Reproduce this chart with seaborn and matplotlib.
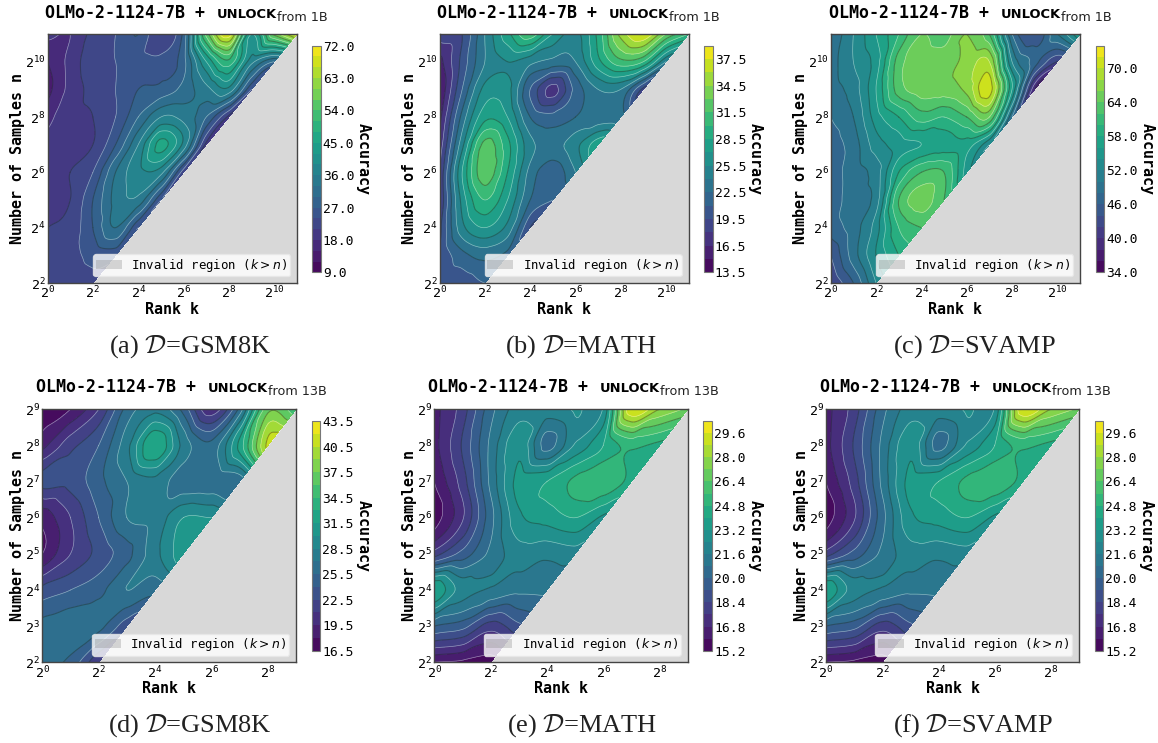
import numpy as np
import matplotlib
matplotlib.use("Agg")
import matplotlib.pyplot as plt
import matplotlib.tri as mtri
from matplotlib.ticker import FixedLocator, NullLocator, LogFormatterMathtext, FormatStrFormatter
import seaborn as sns

sns.set_style("white")
plt.rcParams['font.family'] = ['DejaVu Sans Mono']
plt.rcParams['axes.edgecolor'] = '#444444'
plt.rcParams['text.color'] = 'black'
plt.rcParams['axes.labelcolor'] = 'black'
W, H = 1158, 743

# Rows run from the top of each chart (largest log2 n) down to log2 n = 2; each row starts at log2 k = 0.
gsm8k_1b = [
    [19, 18, 22, 24, 27, 21, 28, 55, 68, 42, 58, 68],
    [15, 19, 23, 24, 25, 25, 29, 42, 50, 37, 30],
    [14, 19, 22, 24, 27, 28, 31, 35, 38, 24],
    [17, 20, 21, 24, 30, 36, 35, 30, 20],
    [19, 20, 21, 27, 36, 46, 38, 20],
    [20, 21, 24, 33, 38, 37, 22],
    [20, 21, 27, 34, 35, 24],
    [21, 22, 27, 33, 24],
    [23, 23, 25, 25],
    [23, 23, 23],
]
math_1b = [
    [19, 19.5, 24, 28, 31, 27, 25, 29, 35, 37.5, 33, 30],
    [16, 20, 24, 25.5, 24.5, 23.5, 24, 28, 31, 30, 24],
    [15, 21, 26, 26, 21, 17.5, 21.5, 24, 24, 19],
    [16, 23, 28, 27, 22.5, 21.5, 22.5, 23, 23],
    [17, 25, 32, 29, 24.5, 23.5, 25, 28],
    [18, 27, 32.5, 28.5, 23.5, 21.5, 24],
    [18, 26, 30, 27, 22.5, 21],
    [19, 25, 27, 25, 19.5],
    [19.5, 22, 23, 22],
    [20, 20, 21],
]
svamp_1b = [
    [48, 52, 56, 60, 64, 63, 66, 62, 48, 44, 50, 56],
    [49, 52, 55, 63, 65, 65, 66.5, 68, 52, 47, 42],
    [49, 51, 56, 63, 65, 65, 66.5, 71, 56, 38],
    [48, 50, 55, 58, 61, 60, 62, 64, 48],
    [47, 49, 53, 55, 56, 57, 57, 52],
    [47, 49, 51, 58, 62, 62, 55],
    [47, 49, 51, 62, 65, 62],
    [47, 49, 53, 60, 62],
    [44, 49, 54, 58],
    [42, 46, 52],
]
gsm8k_13b = [
    [17, 18, 21, 26, 28, 25, 20, 26, 37, 35],
    [19, 22, 24, 28, 33, 28, 26, 32, 41],
    [23, 23, 25, 27, 28, 26, 26, 26],
    [18.5, 21, 24, 27, 27.5, 30, 30],
    [18, 21, 23, 25, 28, 31],
    [23, 24, 25, 27, 26],
    [26, 26.5, 26, 23],
    [26.5, 25, 21],
]
math_13b = [
    [16.5, 18, 20.5, 22, 22, 22.5, 22.5, 29.5, 28, 27],
    [16.5, 18.5, 21, 23, 20.5, 22.5, 24, 25, 24.5],
    [16, 18, 21, 23.5, 24, 25, 25.5, 24.5],
    [15.5, 17.5, 20.5, 23, 23.5, 24, 23],
    [18, 19.5, 21, 22, 21.8, 22],
    [24, 22, 21.5, 21, 21],
    [20, 19.5, 18, 19],
    [16, 15.8, 15.5],
]
svamp_13b = [
    [16.5, 18, 20.5, 22, 22, 22.5, 22.5, 29.5, 28, 27],
    [16.5, 18.5, 21, 23, 20.5, 22.5, 24, 25, 24.5],
    [16, 18, 21, 23.5, 24, 25, 25.5, 24.5],
    [15.5, 17.5, 20.5, 23, 23.5, 24, 23],
    [18, 19.5, 21, 22, 21.8, 22],
    [24, 22, 21.5, 21, 21],
    [20, 19.5, 18, 19],
    [16, 15.8, 15.5],
]
captions = ["(a)", "(b)", "(c)", "(d)", "(e)", "(f)"]
datasets = ["GSM8K", "MATH", "SVAMP", "GSM8K", "MATH", "SVAMP"]
sources = ["from 1B"] * 3 + ["from 13B"] * 3
model_name = "OLMo-2-1124-7B + "

panels = [
    dict(z=gsm8k_1b, lev=(9, 72, 3), tick=3, box=(47.5, 297, 34, 283), cb=(312.3, 320.7, 45.7, 272.3), tx=45, ty=18, cx=190, cy=353),
    dict(z=math_1b, lev=(13.5, 39, 1.5), tick=2, box=(439.5, 688.7, 34, 283), cb=(704.3, 712.7, 45.7, 272.3), tx=437, ty=18, cx=581, cy=353),
    dict(z=svamp_1b, lev=(34, 74, 2), tick=3, box=(830.7, 1080, 34, 283), cb=(1096, 1104.3, 45.7, 272.3), tx=829, ty=18, cx=974, cy=353),
    dict(z=gsm8k_13b, lev=(16.5, 43.5, 1.5), tick=2, box=(42.3, 296, 409.3, 662.3), cb=(311.7, 320, 421, 650.7), tx=36, ty=392, cx=190, cy=732),
    dict(z=math_13b, lev=(15.2, 30.4, 0.8), tick=2, box=(434.3, 687.7, 409.3, 662.3), cb=(703.3, 712, 421, 650.7), tx=428, ty=392, cx=582, cy=732),
    dict(z=svamp_13b, lev=(15.2, 30.4, 0.8), tick=2, box=(826, 1079, 409.3, 662.3), cb=(1095, 1103.3, 421, 650.7), tx=820, ty=392, cx=973, cy=732),
]

fig = plt.figure(figsize=(W / 100, H / 100), dpi=100, facecolor='white')
cmap = sns.color_palette("viridis", as_cmap=True)


def rect(l, r, t, b):
    return [l / W, 1 - b / H, (r - l) / W, (b - t) / H]


def smooth_field(rows):
    top = len(rows) + 1
    xs, ys, zs, index = [], [], [], {}
    for i, row in enumerate(rows):
        ly = top - i
        for lx, v in enumerate(row):
            index[(lx, ly)] = len(xs)
            xs.append(lx); ys.append(ly); zs.append(v)
    tris = []
    for (lx, ly), a in index.items():
        b, c, d = index.get((lx + 1, ly)), index.get((lx, ly + 1)), index.get((lx + 1, ly + 1))
        if c is None or d is None:
            continue
        if b is not None:
            tris.append([a, b, d])
        tris.append([a, d, c])
    t = mtri.Triangulation(np.array(xs, float), np.array(ys, float), tris)
    interp = mtri.CubicTriInterpolator(t, np.array(zs, float), kind='geom')
    refiner = mtri.UniformTriRefiner(t)
    tf, zf = refiner.refine_field(np.array(zs, float), triinterpolator=interp, subdiv=4)
    return mtri.Triangulation(2.0 ** tf.x, 2.0 ** tf.y, tf.triangles), zf, top


for i, p in enumerate(panels):
    ax = fig.add_axes(rect(*p['box']))
    tri, zf, top = smooth_field(p['z'])
    lo, hi, st = p['lev']
    n_lev = int(round((hi - lo) / st))
    levels = lo + st * np.arange(n_lev + 1)
    cf = ax.tricontourf(tri, zf, levels=levels, cmap=cmap, extend='neither')
    ax.tricontour(tri, zf, levels=levels[::2], colors='#222222', linewidths=0.8, alpha=0.4)
    ax.tricontour(tri, zf, levels=levels[1::2], colors='white', linewidths=0.5, alpha=0.45)
    nmax = 2.0 ** top
    ax.fill_between([4.0, nmax], [4.0, 4.0], [4.0, nmax], color='gray', alpha=0.3, linewidth=0,
                    label=r'Invalid region ($k > n$)')
    ax.set_xscale('log', base=2)
    ax.set_yscale('log', base=2)
    ax.set_xlim(1, nmax)
    ax.set_ylim(4, nmax)
    ax.xaxis.set_major_locator(FixedLocator([2.0 ** e for e in range(0, top + 1, 2)]))
    ystep = 2 if top == 11 else 1
    ax.yaxis.set_major_locator(FixedLocator([2.0 ** e for e in range(2, top + 1, ystep)]))
    for axis in (ax.xaxis, ax.yaxis):
        axis.set_minor_locator(NullLocator())
        axis.set_major_formatter(LogFormatterMathtext(base=2))
    ax.tick_params(axis='both', labelsize=9.5, length=0, pad=1.5, colors='black')
    ax.set_xlabel('Rank k', fontsize=10.8, fontweight='bold', labelpad=0)
    ax.set_ylabel('Number of Samples n', fontsize=10.8, fontweight='bold', labelpad=0)
    for s in ax.spines.values():
        s.set_linewidth(1.0)
    ax.legend(loc='lower right', fontsize=8.9, frameon=True, framealpha=0.8, edgecolor='#e8e8e8',
              borderaxespad=0.55, handlelength=2.1, borderpad=0.2)

    cax = fig.add_axes(rect(*p['cb']))
    cb = fig.colorbar(cf, cax=cax, ticks=levels[::p['tick']])
    cb.ax.yaxis.set_major_formatter(FormatStrFormatter('%.1f'))
    cb.ax.tick_params(labelsize=9.4, length=0, pad=1.5, colors='black')
    cb.outline.set_edgecolor('#777777')
    cb.set_label('Accuracy', fontsize=10.8, fontweight='bold', rotation=270, labelpad=12)

    tx, ty = p['tx'], p['ty']
    fig.text(tx / W, 1 - ty / H, model_name, fontsize=12, fontweight='bold', family='DejaVu Sans Mono', va='baseline', ha='left')
    fig.text((tx + 172) / W, 1 - ty / H, 'UNLOCK', fontsize=9.4, fontweight='bold', family='DejaVu Sans', va='baseline', ha='left')
    fig.text((tx + 232) / W, 1 - (ty + 3) / H, sources[i], fontsize=9.2, family='DejaVu Sans', va='baseline', ha='left', color='#222222')
    fig.text(p['cx'] / W, 1 - p['cy'] / H, captions[i] + r' $\mathcal{D}$=' + datasets[i], fontsize=19,
             family='Liberation Serif', math_fontfamily='cm', ha='center', va='baseline', color='#222222')

fig.savefig('out.png', dpi=100)
